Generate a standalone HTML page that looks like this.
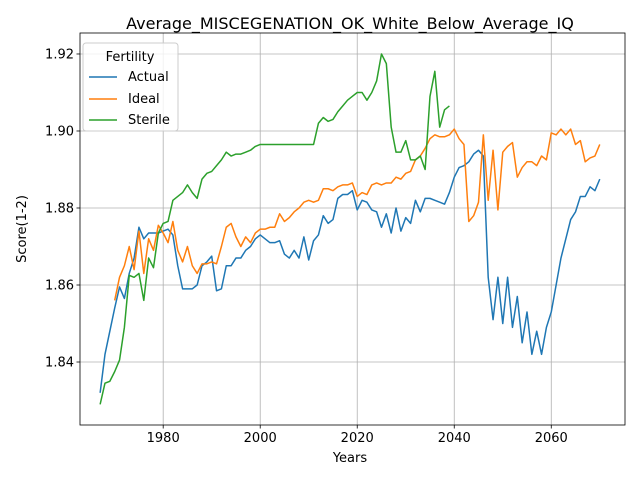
<!DOCTYPE html>
<html><head><meta charset="utf-8"><style>
body{margin:0;background:#fff;font-family:"Liberation Sans","DejaVu Sans",sans-serif}
svg text{font-family:"DejaVu Sans","Liberation Sans",sans-serif}
</style></head><body>
<svg id="chart" width="640" height="480" xmlns="http://www.w3.org/2000/svg">
<rect width="640" height="480" fill="#fff"/>
<text x="350" y="29" font-size="16" text-anchor="middle">Average_MISCEGENATION_OK_White_Below_Average_IQ</text>
<g id="grid"></g><g id="series"></g><g id="axes"></g>
<text x="350" y="462" font-size="13" text-anchor="middle">Years</text>
<text transform="translate(26,229) rotate(-90)" font-size="13" text-anchor="middle">Score(1-2)</text>
<g>
<rect x="83" y="43" width="95" height="88" rx="3" fill="#fff" fill-opacity="0.8" stroke="#ccc"/>
<text x="130" y="61" font-size="13" text-anchor="middle">Fertility</text>
<g><line x1="89" x2="117" y1="77" y2="77" stroke="#1f77b4" stroke-width="1.5"/><text x="128" y="81" font-size="13">Actual</text></g>
<g><line x1="89" x2="117" y1="99" y2="99" stroke="#ff7f0e" stroke-width="1.5"/><text x="128" y="103" font-size="13">Ideal</text></g>
<g><line x1="89" x2="117" y1="120" y2="120" stroke="#2ca02c" stroke-width="1.5"/><text x="128" y="124" font-size="13">Sterile</text></g>
</g>
</svg>
<script>
const actualStart = 1967;
const actual = [1.832,1.842,1.848,1.854,1.8595,1.8565,1.863,1.867,1.875,1.872,1.8735,1.8735,1.8735,1.874,1.8745,1.873,1.865,1.859,1.859,1.859,1.860,1.865,1.866,1.8675,1.8585,1.859,1.865,1.865,1.867,1.867,1.869,1.870,1.872,1.873,1.872,1.871,1.871,1.8715,1.868,1.867,1.869,1.867,1.8725,1.8665,1.8715,1.873,1.878,1.876,1.877,1.8825,1.8835,1.8835,1.8845,1.8795,1.882,1.8815,1.8795,1.879,1.875,1.8785,1.8735,1.880,1.874,1.8775,1.876,1.882,1.879,1.8825,1.8825,1.882,1.8815,1.881,1.884,1.888,1.8905,1.891,1.892,1.894,1.895,1.8935,1.862,1.851,1.862,1.850,1.862,1.849,1.857,1.845,1.853,1.842,1.848,1.842,1.849,1.853,1.860,1.867,1.872,1.877,1.879,1.883,1.883,1.8855,1.8845,1.8875];
const idealStart = 1970;
const ideal = [1.856,1.862,1.865,1.870,1.864,1.874,1.863,1.872,1.869,1.8755,1.8735,1.871,1.8765,1.869,1.866,1.870,1.865,1.863,1.8655,1.8655,1.866,1.8655,1.870,1.875,1.876,1.8725,1.870,1.8725,1.871,1.8735,1.8745,1.8745,1.875,1.875,1.8785,1.8765,1.8775,1.879,1.880,1.8815,1.882,1.8815,1.882,1.885,1.885,1.8845,1.8855,1.886,1.886,1.8865,1.883,1.884,1.8835,1.886,1.8865,1.886,1.8865,1.8865,1.888,1.8875,1.889,1.8895,1.8925,1.8935,1.8955,1.898,1.899,1.8985,1.8985,1.899,1.9005,1.898,1.8965,1.8765,1.878,1.8815,1.899,1.882,1.895,1.8795,1.8945,1.896,1.897,1.888,1.8905,1.892,1.892,1.891,1.8935,1.8925,1.8995,1.899,1.9005,1.899,1.9005,1.8965,1.8975,1.892,1.893,1.8935,1.8965];
const sterileStart = 1967;
const sterile = [1.829,1.8345,1.835,1.8375,1.8405,1.849,1.8625,1.862,1.863,1.856,1.867,1.8645,1.8735,1.876,1.8765,1.882,1.883,1.884,1.886,1.884,1.8825,1.8875,1.889,1.8895,1.891,1.8925,1.8945,1.8935,1.894,1.894,1.8945,1.895,1.896,1.8965,1.8965,1.8965,1.8965,1.8965,1.8965,1.8965,1.8965,1.8965,1.8965,1.8965,1.8965,1.902,1.9035,1.9025,1.903,1.905,1.9065,1.908,1.909,1.910,1.910,1.908,1.910,1.913,1.920,1.9175,1.901,1.8945,1.8945,1.8975,1.8925,1.8925,1.8935,1.890,1.909,1.9155,1.901,1.9055,1.9065];
const xTicks = [1980,2000,2020,2040,2060];
const yTicks = [1.84,1.86,1.88,1.90,1.92];

const L=80,R=625,T=33,B=425;
const xMin=1962.85,xMax=2075.2,yMin=1.82364,yMax=1.92545;
const sx=v=>L+(v-xMin)/(xMax-xMin)*(R-L);
const sy=v=>B-(v-yMin)/(yMax-yMin)*(B-T);
const NS="http://www.w3.org/2000/svg";
function mk(tag,attrs,parent){const e=document.createElementNS(NS,tag);for(const k in attrs)e.setAttribute(k,attrs[k]);parent.appendChild(e);return e;}
const grid=document.getElementById('grid'),axes=document.getElementById('axes'),series=document.getElementById('series');
xTicks.forEach(t=>{const x=sx(t);
 const g=mk('line',{x1:x,x2:x,y1:T,y2:B,stroke:'#b0b0b0','stroke-width':0.8},grid);
 
 
 mk('line',{x1:x,x2:x,y1:B,y2:B+3.5,stroke:'#000','stroke-width':0.8},axes);
 const tx=mk('text',{x:x,y:B+17,'font-size':13,'text-anchor':'middle'},axes);tx.textContent=t;
 
 
});
yTicks.forEach(t=>{const y=sy(t);
 const g=mk('line',{x1:L,x2:R,y1:y,y2:y,stroke:'#b0b0b0','stroke-width':0.8},grid);
 
 
 mk('line',{x1:L-3.5,x2:L,y1:y,y2:y,stroke:'#000','stroke-width':0.8},axes);
 const tx=mk('text',{x:L-6,y:y+4.5,'font-size':13,'text-anchor':'end'},axes);tx.textContent=t.toFixed(2);
 
 
});
const frame=mk('rect',{x:L,y:T,width:R-L,height:B-T,fill:'none',stroke:'#000','stroke-width':0.8},axes);


function line(data,start,color,name){
 const pts=data.map((v,i)=>sx(start+i).toFixed(2)+','+sy(v).toFixed(2)).join(' ');
 const p=mk('polyline',{points:pts,fill:'none',stroke:color,'stroke-width':1.5,'stroke-linejoin':'round'},series);
 
 
}
line(actual,actualStart,'#1f77b4','actual-line');
line(ideal,idealStart,'#ff7f0e','ideal-line');
line(sterile,sterileStart,'#2ca02c','sterile-line');
</script>
</body></html>
